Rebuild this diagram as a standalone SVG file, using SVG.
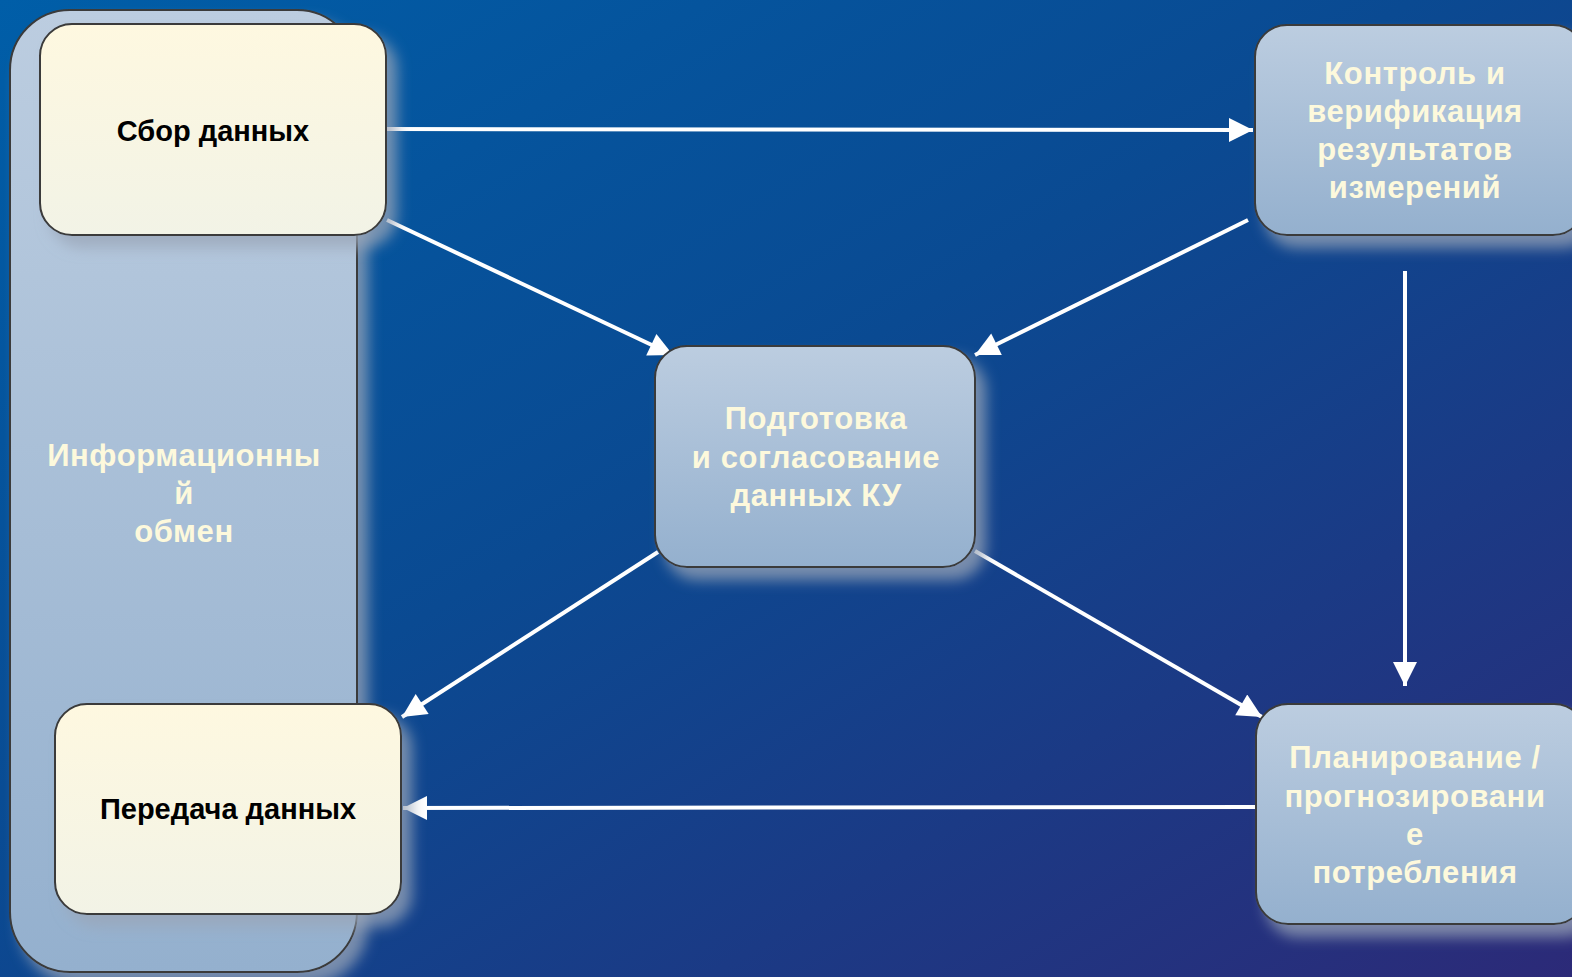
<svg xmlns="http://www.w3.org/2000/svg" width="1572" height="977" viewBox="0 0 1572 977">
<defs>
<linearGradient id="bg" x1="0" y1="0" x2="1" y2="1">
<stop offset="0" stop-color="#005ea8"/>
<stop offset="0.45" stop-color="#0a4a92"/>
<stop offset="1" stop-color="#2c2a78"/>
</linearGradient>
<linearGradient id="blueFill" x1="0" y1="0" x2="0" y2="1">
<stop offset="0" stop-color="#bccde0"/>
<stop offset="1" stop-color="#94b0ce"/>
</linearGradient>
<linearGradient id="creamFill" x1="0" y1="0" x2="0" y2="1">
<stop offset="0" stop-color="#fef8e0"/>
<stop offset="1" stop-color="#f2f3e6"/>
</linearGradient>
<filter id="shadow" x="-20%" y="-20%" width="150%" height="150%">
<feGaussianBlur in="SourceAlpha" stdDeviation="7"/>
<feOffset dx="10" dy="12" result="b"/>
<feFlood flood-color="#9aa6b8" flood-opacity="0.75"/>
<feComposite in2="b" operator="in"/>
<feMerge><feMergeNode/><feMergeNode in="SourceGraphic"/></feMerge>
</filter>
<marker id="arrow" viewBox="0 0 10 10" refX="10" refY="5" markerWidth="8.5" markerHeight="6" markerUnits="strokeWidth" orient="auto">
<path d="M0,0 L10,5 L0,10 Z" fill="#ffffff"/>
</marker>
</defs>
<style>
.box{stroke:#3a3a3a;stroke-width:2}
.blue{fill:url(#blueFill)}
.cream{fill:url(#creamFill)}
.t{font-family:"Liberation Sans",Arial,sans-serif;font-weight:bold;text-anchor:middle}
.light{fill:#fdf9dc;font-size:31px;letter-spacing:0.6px}
.dark{fill:#000000;font-size:29px}
.conn{stroke:#ffffff;stroke-width:4;fill:none;marker-end:url(#arrow)}
</style>
<rect width="1572" height="977" fill="url(#bg)"/>
<g id="info-exchange">
<rect class="box blue" x="10" y="10" width="347" height="962" rx="60" filter="url(#shadow)"/>
<text class="t light" x="184" y="466">Информационны</text>
<text class="t light" x="184" y="504">й</text>
<text class="t light" x="184" y="542">обмен</text>
</g>
<g id="connectors">
<line class="conn" x1="387" y1="129" x2="1253" y2="130"/>
<line class="conn" x1="387" y1="220" x2="673" y2="355"/>
<line class="conn" x1="1248" y1="220" x2="975" y2="355"/>
<line class="conn" x1="1405" y1="271" x2="1405" y2="686"/>
<line class="conn" x1="658" y1="552" x2="402" y2="717"/>
<line class="conn" x1="975" y1="551" x2="1262" y2="717"/>
<line class="conn" x1="1255" y1="807" x2="403" y2="808"/>
</g>
<g id="collect">
<rect class="box cream" x="40" y="24" width="346" height="211" rx="32" filter="url(#shadow)"/>
<text class="t dark" x="213" y="141">Сбор данных</text>
</g>
<g id="control">
<rect class="box blue" x="1255" y="25" width="330" height="210" rx="32" filter="url(#shadow)"/>
<text class="t light" x="1415" y="84">Контроль и</text>
<text class="t light" x="1415" y="122">верификация</text>
<text class="t light" x="1415" y="160">результатов</text>
<text class="t light" x="1415" y="198">измерений</text>
</g>
<g id="prepare">
<rect class="box blue" x="655" y="346" width="320" height="221" rx="32" filter="url(#shadow)"/>
<text class="t light" x="816" y="429">Подготовка</text>
<text class="t light" x="816" y="468">и согласование</text>
<text class="t light" x="816" y="506">данных КУ</text>
</g>
<g id="transfer">
<rect class="box cream" x="55" y="704" width="346" height="210" rx="32" filter="url(#shadow)"/>
<text class="t dark" x="228" y="819">Передача данных</text>
</g>
<g id="planning">
<rect class="box blue" x="1256" y="704" width="330" height="220" rx="32" filter="url(#shadow)"/>
<text class="t light" x="1415" y="768">Планирование /</text>
<text class="t light" x="1415" y="807">прогнозировани</text>
<text class="t light" x="1415" y="845">е</text>
<text class="t light" x="1415" y="883">потребления</text>
</g>
</svg>
